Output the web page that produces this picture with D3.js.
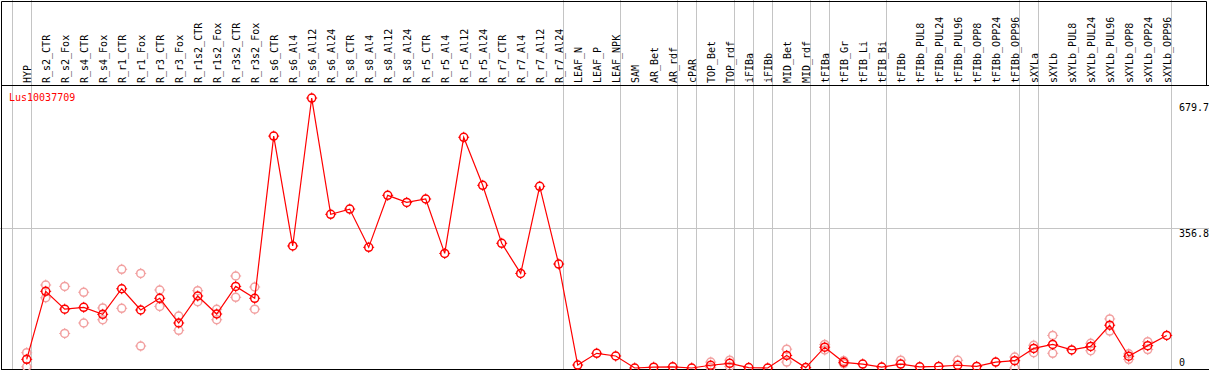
<!DOCTYPE html>
<html>
<head>
<meta charset="utf-8">
<script src="https://cdn.jsdelivr.net/npm/d3@7"></script>
<style>
  body { margin: 0; background: #fff; }
  svg { display: block; }
  text { font-family: "DejaVu Sans Mono", monospace; font-size: 10px; }
</style>
</head>
<body>
<div id="chart"></div>
<script>
// sample labels, left to right
var samples = ["HYP","R_s2_CTR","R_s2_Fox","R_s4_CTR","R_s4_Fox","R_r1_CTR","R_r1_Fox","R_r3_CTR","R_r3_Fox",
  "R_r1s2_CTR","R_r1s2_Fox","R_r3s2_CTR","R_r3s2_Fox","R_s6_CTR","R_s6_Al4","R_s6_Al12","R_s6_Al24",
  "R_s8_CTR","R_s8_Al4","R_s8_Al12","R_s8_Al24","R_r5_CTR","R_r5_Al4","R_r5_Al12","R_r5_Al24",
  "R_r7_CTR","R_r7_Al4","R_r7_Al12","R_r7_Al24","LEAF_N","LEAF_P","LEAF_NPK","SAM","AR_Bet","AR_rdf",
  "cPAR","TOP_Bet","TOP_rdf","iFIBa","iFIBb","MID_Bet","MID_rdf","tFIBa","tFIB_Gr","tFIB_Li","tFIB_Bi",
  "tFIBb","tFIBb_PUL8","tFIBb_PUL24","tFIBb_PUL96","tFIBb_OPP8","tFIBb_OPP24","tFIBb_OPP96",
  "sXYLa","sXYLb","sXYLb_PUL8","sXYLb_PUL24","sXYLb_PUL96","sXYLb_OPP8","sXYLb_OPP24","sXYLb_OPP96"];

// how many samples in each tissue group (separated by grey lines)
var groupSizes = [1, 28, 3, 3, 1, 2, 1, 1, 2, 1, 3, 7, 1, 7];

// mean expression
var means = [22, 195.4, 150, 154.6, 136.8, 202, 147.8, 177.6, 114.7, 183.5, 137.6, 208, 177.6,
  591, 311, 688, 391.7, 405, 307.5, 440, 422, 430.7, 292, 588, 465.6, 317.8, 241, 463, 265,
  7.6, 37.5, 30.6, 0, 2, 3, 0, 7, 12, 1, 0, 32, 1, 53, 14.5, 10, 2.5,
  10, 3, 4, 7, 4, 15, 18.6, 50, 60, 46, 55, 109, 30, 57, 83];

// replicates (null = none shown)
var rep1 = [39, 211.5, 208, 193, 153, 251.5, 241, 198.8, 132.5, 197, 149.6, 234.5, 206.4,
  null, null, null, null, null, null, null, null, null, null, null, null, null, null, null, null,
  null, null, null, null, null, null, null, 15, 20, null, null, 48, null, 60, 18.6, null, null,
  20, null, null, 19.6, null, null, 28, 58, 83, null, 63, 125, 36, 67, null];
var rep2 = [3, 179, 88, 114.7, 123, 152, 56, 157, 96, 169, 123, 180, 150,
  null, null, null, null, null, null, null, null, null, null, null, null, null, null, null, null,
  null, null, null, null, null, null, null, 1, 4, null, null, 15, null, 46, 11, null, null,
  null, null, null, null, null, null, 0, 39, 37.5, null, 44, 94, 22, 47, null];

var yTicks = [0, 356.8, 679.7];
var geneName = "Lus10037709";

var width = 1209, height = 370;

var svg = d3.select("#chart")
  .append("svg")
  .attr("width", width)
  .attr("height", height);

var xScale = d3.scaleLinear()
  .domain([0, samples.length - 1])
  .range([26.7, 1166.7]);

var yScale = d3.scaleLinear()
  .domain([0, 679.7])
  .range([368, 101.3]);

// group boundaries
var starts = [0];
groupSizes.forEach(function(n) { starts.push(starts[starts.length - 1] + n); });

svg.selectAll(".sep")
  .data(starts)
  .enter()
  .append("line")
  .attr("x1", function(d) { return Math.round(xScale(d) - 15) + 0.5; })
  .attr("x2", function(d) { return Math.round(xScale(d) - 15) + 0.5; })
  .attr("y1", 0)
  .attr("y2", height)
  .attr("stroke", "#c4c4c4");

// horizontal grid at middle tick
svg.append("line")
  .attr("x1", 0).attr("x2", width)
  .attr("y1", Math.round(yScale(yTicks[1])) + 0.5)
  .attr("y2", Math.round(yScale(yTicks[1])) + 0.5)
  .attr("stroke", "#c4c4c4");

// frame
svg.append("path")
  .attr("d", "M1.5,369.5V1.5H1206.5V85.5")
  .attr("fill", "none")
  .attr("stroke", "#000");
svg.append("line")
  .attr("x1", 1).attr("x2", width)
  .attr("y1", 85.5).attr("y2", 85.5)
  .attr("stroke", "#000");
svg.append("line")
  .attr("x1", 1).attr("x2", width)
  .attr("y1", 369.5).attr("y2", 369.5)
  .attr("stroke", "#000");

// sample labels, rotated
svg.selectAll(".lab")
  .data(samples)
  .enter()
  .append("text")
  .attr("transform", function(d, i) {
    return "translate(" + (Math.round(xScale(i)) + 4) + ",83) rotate(-90)";
  })
  .attr("fill", "#000")
  .text(function(d) { return d; });

// y tick labels
svg.selectAll(".ylab")
  .data(yTicks)
  .enter()
  .append("text")
  .attr("x", 1179)
  .attr("y", function(d) { return Math.min(yScale(d) + 9.5, 366); })
  .attr("fill", "#000")
  .text(function(d) { return d; });

svg.append("text")
  .attr("x", 9)
  .attr("y", 101)
  .attr("fill", "#ff0000")
  .text(geneName);

var marker = "M0,-5.5V-3.5M0,3.5V5.5M-5.5,0H-3.5M3.5,0H5.5";

function drawMarkers(vals, color) {
  var pts = vals.map(function(v, i) { return { i: i, v: v }; })
    .filter(function(d) { return d.v !== null; });
  var g = svg.append("g")
    .selectAll("g")
    .data(pts)
    .enter()
    .append("g")
    .attr("transform", function(d) {
      return "translate(" + xScale(d.i) + "," + yScale(d.v) + ")";
    });
  g.append("circle")
    .attr("r", 4)
    .attr("fill", "none")
    .attr("stroke", color)
    .attr("stroke-width", 1.5);
  g.append("path")
    .attr("d", marker)
    .attr("stroke", color)
    .attr("stroke-width", 1);
}

drawMarkers(rep1, "#f2a0a0");
drawMarkers(rep2, "#f2a0a0");

var line = d3.line()
  .x(function(d, i) { return xScale(i); })
  .y(function(d) { return yScale(d); });

svg.append("path")
  .datum(means)
  .attr("d", line)
  .attr("fill", "none")
  .attr("stroke", "#ff0000")
  .attr("stroke-width", 1.2);

drawMarkers(means, "#ff0000");
</script>
</body>
</html>
